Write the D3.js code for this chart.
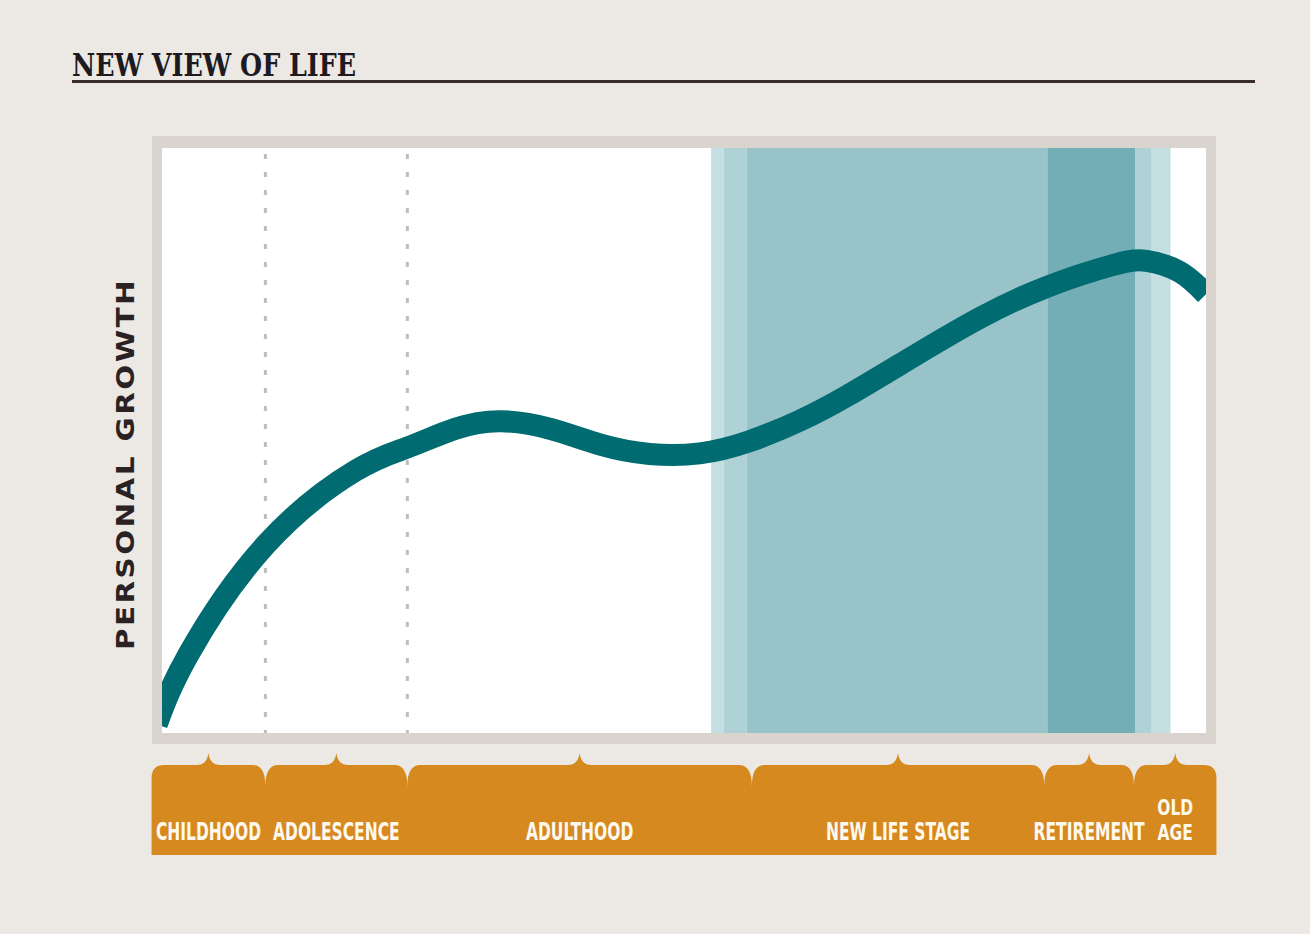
<!DOCTYPE html>
<html>
<head>
<meta charset="utf-8">
<style>
body { margin: 0; background: #ece9e4; }
svg { display: block; }
.title { font-family: 'DejaVu Serif Condensed', 'DejaVu Serif', serif; font-weight: bold; font-size: 32px; fill: #1e1a22; }
.ylabel { font-family: 'DejaVu Sans', sans-serif; font-weight: bold; font-size: 24px; letter-spacing: 2px; fill: #2a2222; }
.stage text { font-family: 'DejaVu Sans Condensed', 'DejaVu Sans', sans-serif; font-weight: bold; font-size: 25px; fill: #fff8ee; }
.stage text.two { font-size: 21px; }
</style>
</head>
<body>
<div id='chart'></div>
<script src='https://cdn.jsdelivr.net/npm/d3@7'></script>
<script>

// life stages along the bottom bracket
const stages = ['CHILDHOOD', 'ADOLESCENCE', 'ADULTHOOD', 'NEW LIFE STAGE', 'RETIREMENT', 'OLD AGE'];
const stageBreaks = [-1, 9.9, 23.5, 56.5, 84.5, 93.1, 101];

// dotted dividers inside the plot
const dividers = [9.9, 23.5];

// shaded bands (start, end, shade level)
const bandStart = [52.6, 53.8, 56.0, 84.8, 93.2, 94.8];
const bandEnd   = [53.8, 56.0, 84.8, 93.2, 94.8, 96.6];
const bandLevel = [1, 2, 3, 4, 2, 1];

// personal growth curve
const ageX    = [-0.5, 2.5, 9.9, 18.5, 23.5, 28.1, 32.4, 37.2, 42.0, 46.7, 51.5, 56.3, 61.1, 65.6, 71.9, 78.4, 84.8, 91.1, 94.3, 97.5, 100];
const growthY = [1.5, 13.3, 32.1, 44.8, 48.8, 52.0, 53.3, 52.0, 49.3, 47.7, 47.8, 49.9, 53.4, 57.6, 64.3, 71.0, 76.3, 80.0, 80.7, 78.8, 75.0];

const W = 1310, H = 934;
const plot = {left: 162, right: 1206, top: 148, bottom: 733};

const svg = d3.select('#chart').append('svg')
    .attr('width', W)
    .attr('height', H);

svg.append('rect')
    .attr('width', W).attr('height', H)
    .attr('fill', '#ece9e4');

const x = d3.scaleLinear().domain([0, 100]).range([plot.left, plot.right]);
const y = d3.scaleLinear().domain([0, 100]).range([plot.bottom, plot.top]);

const shade = d3.scaleOrdinal()
    .domain([1, 2, 3, 4])
    .range(['#c3dfe2', '#aed2d6', '#98c3c8', '#73aeb7']);

// title + rule
svg.append('text')
    .attr('class', 'title')
    .attr('x', 72).attr('y', 76)
    .attr('textLength', 284)
    .attr('lengthAdjust', 'spacingAndGlyphs')
    .text('NEW VIEW OF LIFE');

svg.append('line')
    .attr('x1', 72).attr('x2', 1255)
    .attr('y1', 81.5).attr('y2', 81.5)
    .attr('stroke', '#3a2c2a')
    .attr('stroke-width', 3);

// frame
svg.append('rect')
    .attr('x', plot.left - 10).attr('y', plot.top - 12)
    .attr('width', plot.right - plot.left + 20)
    .attr('height', plot.bottom - plot.top + 23)
    .attr('fill', '#d9d4cd');

svg.append('rect')
    .attr('x', plot.left).attr('y', plot.top)
    .attr('width', plot.right - plot.left)
    .attr('height', plot.bottom - plot.top)
    .attr('fill', '#ffffff');

svg.append('clipPath').attr('id', 'clip')
  .append('rect')
    .attr('x', plot.left).attr('y', plot.top)
    .attr('width', plot.right - plot.left)
    .attr('height', plot.bottom - plot.top);

const g = svg.append('g').attr('clip-path', 'url(#clip)');

g.selectAll('.band')
    .data(bandStart)
    .join('rect')
    .attr('class', 'band')
    .attr('x', (d, i) => x(d))
    .attr('width', (d, i) => x(bandEnd[i]) - x(d))
    .attr('y', plot.top)
    .attr('height', plot.bottom - plot.top)
    .attr('fill', (d, i) => shade(bandLevel[i]));

g.selectAll('.divider')
    .data(dividers)
    .join('line')
    .attr('class', 'divider')
    .attr('x1', d => x(d)).attr('x2', d => x(d))
    .attr('y1', plot.top + 6).attr('y2', plot.bottom)
    .attr('stroke', '#bdbdbd')
    .attr('stroke-width', 3)
    .attr('stroke-dasharray', '5,13');

const line = d3.line()
    .x(d => x(d[0]))
    .y(d => y(d[1]))
    .curve(d3.curveNatural);

g.append('path')
    .datum(ageX.map((a, i) => [a, growthY[i]]))
    .attr('d', line)
    .attr('fill', 'none')
    .attr('stroke', '#006b70')
    .attr('stroke-width', 22);

// y label
svg.append('text')
    .attr('class', 'ylabel')
    .attr('transform', 'translate(134,464) rotate(-90)')
    .attr('text-anchor', 'middle')
    .attr('textLength', 372)
    .attr('lengthAdjust', 'spacingAndGlyphs')
    .text('PERSONAL GROWTH');

// bottom bracket
const bTop = 765, bNotch = 786, bBase = 855, r = 13;
const p = d3.path();
const xs = stageBreaks.map(x);
p.moveTo(xs[0], bBase);
p.lineTo(xs[0], bTop + r);
p.quadraticCurveTo(xs[0], bTop, xs[0] + r, bTop);
stages.forEach((s, i) => {
    const x0 = xs[i], x1 = xs[i + 1], cx = (x0 + x1) / 2;
    if (i > 0) p.quadraticCurveTo(x0, bTop, x0 + r, bTop);
    p.lineTo(cx - 12, bTop);
    p.bezierCurveTo(cx - 4, bTop, cx - 1, bTop - 5, cx, bTop - 12);
    p.bezierCurveTo(cx + 1, bTop - 5, cx + 4, bTop, cx + 12, bTop);
    p.lineTo(x1 - r, bTop);
    if (i < stages.length - 1) p.quadraticCurveTo(x1, bTop, x1, bNotch);
    else p.quadraticCurveTo(x1, bTop, x1, bTop + r);
});
p.lineTo(xs[xs.length - 1], bBase);
p.closePath();

svg.append('path')
    .attr('d', p.toString())
    .attr('fill', '#d5891f');

// stage labels, squeezed horizontally to mimic a condensed face
const labels = svg.append('g').attr('class', 'stage');
stages.forEach((s, i) => {
    const cx = (xs[i] + xs[i + 1]) / 2;
    const words = s === 'OLD AGE' ? ['OLD', 'AGE'] : [s];
    const squeeze = words.length > 1 ? 0.82 : 0.69;
    const t = labels.append('text')
        .attr('class', words.length > 1 ? 'two' : null)
        .attr('transform', 'translate(' + cx + ',840) scale(' + squeeze + ',1)')
        .attr('text-anchor', 'middle');
    words.forEach((w, j) => {
        t.append('tspan')
            .attr('x', 0)
            .attr('y', -(words.length - 1 - j) * 25)
            .text(w);
    });
});

</script>
</body>
</html>
